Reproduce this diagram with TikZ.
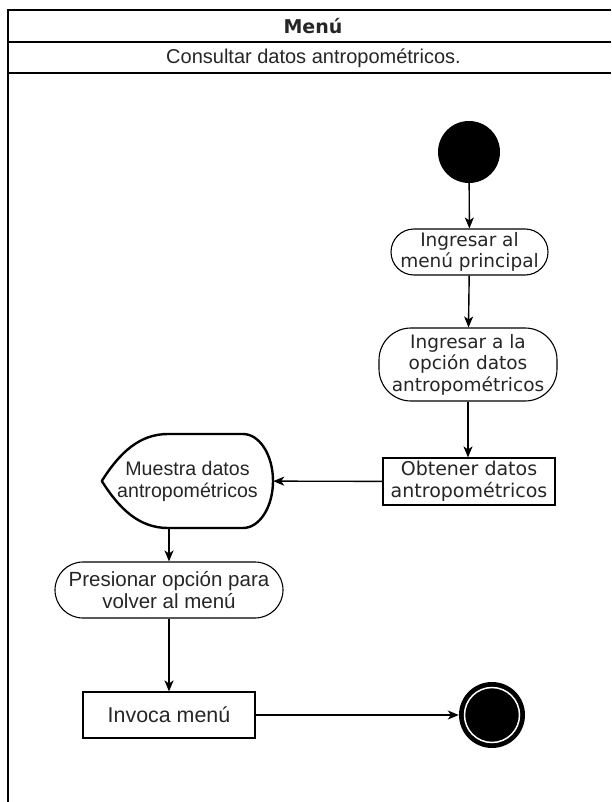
\documentclass[tikz,border=0pt]{standalone}
\usepackage{fontspec}
\setmainfont{Liberation Sans}
\newfontfamily\verd{DejaVu Sans}
\usetikzlibrary{arrows.meta}
\begin{document}
\begin{tikzpicture}[x=1pt,y=-1pt,
  flow/.style={line width=1.4pt,-{Stealth[length=11pt,width=9pt,inset=3pt]}},
  act/.style={draw,line width=1.1pt,inner sep=0pt,align=center,text=black!85},
  stadium/.style={act,rounded corners=#1},
  plainbox/.style={act},
  vtext/.style={font=\verd\fontsize{18.5}{21.5}\selectfont},
  atext/.style={font=\fontsize{20.5}{22.5}\selectfont}]
\useasboundingbox (0,0) rectangle (611,802);
\fill[white] (0,0) rectangle (611,802);

% swimlane frame
\draw[line width=2pt] (611,10) -- (8,10) -- (8,802);
\draw[line width=2pt] (8,42) -- (611,42);
\draw[line width=2pt] (8,73) -- (611,73);
\node[font=\verd\bfseries\fontsize{19}{22}\selectfont,text=black!85] (lane) at (313,26) {Menú};
\node[font=\fontsize{20}{22}\selectfont,text=black!85] (title) at (313.5,58) {Consultar datos antropométricos.};

% initial and final states
\node[circle,fill=black,minimum size=62pt,inner sep=0pt] (start) at (469,152) {};
\node[circle,fill=black,minimum size=66pt,inner sep=0pt] (stop) at (492,715) {};
\draw[white,line width=1.5pt] (stop.center) circle[radius=27.5];

% actions
\node[stadium=23pt,vtext,minimum width=157pt,minimum height=46pt] (menu) at (469.5,252)
  {Ingresar al\\menú principal};
\node[stadium=32pt,vtext,minimum width=178pt,minimum height=73pt] (option) at (468,364.5)
  {Ingresar a la\\opción datos\\antropométricos};
\node[plainbox,vtext,font=\verd\fontsize{19}{22}\selectfont,minimum width=172pt,minimum height=47pt] (fetch) at (469,481.5)
  {Obtener datos\\antropométricos};
\node[stadium=28pt,atext,minimum width=228pt,minimum height=56pt] (press) at (169,590)
  {Presionar opción para\\volver al menú};
\node[plainbox,atext,font=\fontsize{21.4}{24}\selectfont,minimum width=172pt,minimum height=46pt] (invoke) at (169,715)
  {Invoca menú};

% display shape
\node[inner sep=0pt,minimum width=171pt,minimum height=94pt,align=center,text=black!85,
  font=\fontsize{19.6}{22}\selectfont] (show) at (187.5,481) {Muestra datos\\antropométricos};
\draw[line width=2.4pt,line join=round]
  (show.west) .. controls (120,452) and (140,434) .. (168,434) -- (243,434)
  arc[start angle=-90,end angle=90,x radius=30,y radius=47]
  -- (168,528) .. controls (140,528) and (120,510) .. (show.west) -- cycle;

% connectors
\draw[flow] (start) -- (menu);
\draw[flow] (menu) -- (option);
\draw[flow] (option.south) -- (option.south |- fetch.north);
\draw[flow] (fetch) -- (show);
\draw[flow] (press.north |- show.south) -- (press);
\draw[flow] (press) -- (invoke);
\draw[flow] (invoke) -- (stop);
\end{tikzpicture}
\end{document}
